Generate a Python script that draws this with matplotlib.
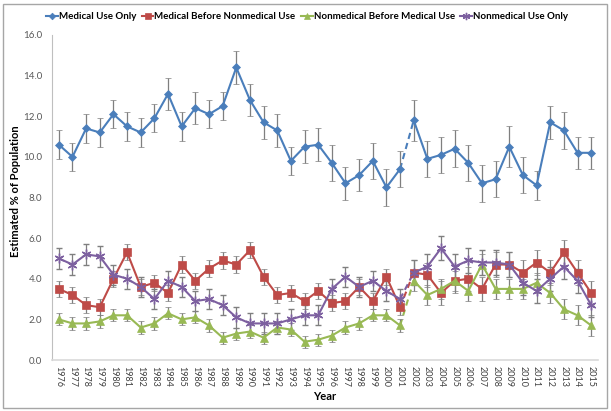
import matplotlib
matplotlib.use("Agg")
import matplotlib.pyplot as plt
from matplotlib.patches import Rectangle
from matplotlib.lines import Line2D

years = list(range(1976, 2016))
series_names = ["Medical Use Only", "Medical Before Nonmedical Use",
                "Nonmedical Before Medical Use", "Nonmedical Use Only"]

medical_only = [10.6, 10.0, 11.4, 11.2, 12.1, 11.5, 11.2, 11.9, 13.1, 11.5,
                12.4, 12.1, 12.5, 14.4, 12.8, 11.7, 11.3, 9.8, 10.5, 10.6,
                9.7, 8.7, 9.1, 9.8, 8.5, 9.4, 11.8, 9.9, 10.1, 10.4,
                9.7, 8.7, 8.9, 10.5, 9.1, 8.6, 11.7, 11.3, 10.2, 10.2]
medical_only_err = [0.7, 0.7, 0.7, 0.7, 0.7, 0.7, 0.7, 0.7, 0.8, 0.7,
                    0.8, 0.7, 0.7, 0.8, 0.8, 0.8, 0.8, 0.7, 0.8, 0.8,
                    0.9, 0.8, 0.8, 0.9, 0.9, 0.9, 1.0, 0.9, 0.9, 0.9,
                    0.9, 0.9, 0.9, 1.0, 0.9, 0.7, 0.8, 0.9, 0.8, 0.8]

med_before = [3.5, 3.2, 2.7, 2.6, 4.0, 5.3, 3.6, 3.8, 3.3, 4.7,
              3.9, 4.5, 4.9, 4.7, 5.4, 4.1, 3.2, 3.3, 2.9, 3.4,
              2.8, 2.9, 3.6, 2.9, 4.1, 2.6, 4.3, 4.2, 3.3, 3.9,
              4.0, 3.5, 4.7, 4.7, 4.3, 4.8, 4.3, 5.3, 4.3, 3.3]
med_before_err = [0.4] * 26 + [0.6] * 14

nonmed_before = [2.0, 1.8, 1.8, 1.9, 2.2, 2.2, 1.6, 1.8, 2.3, 2.0,
                 2.1, 1.7, 1.1, 1.3, 1.4, 1.1, 1.6, 1.5, 0.9, 1.0,
                 1.2, 1.6, 1.8, 2.2, 2.2, 1.7, 3.9, 3.2, 3.5, 3.9,
                 3.4, 4.7, 3.5, 3.5, 3.5, 3.8, 3.3, 2.5, 2.2, 1.7]
nonmed_before_err = [0.3] * 26 + [0.5] * 14

nonmed_only = [5.0, 4.7, 5.2, 5.1, 4.2, 4.0, 3.6, 3.0, 3.9, 3.6,
               2.9, 3.0, 2.7, 2.1, 1.8, 1.8, 1.8, 2.0, 2.2, 2.2,
               3.5, 4.1, 3.6, 3.9, 3.4, 3.0, 4.3, 4.6, 5.5, 4.6,
               4.9, 4.8, 4.8, 4.7, 3.8, 3.4, 4.0, 4.6, 3.9, 2.7]
nonmed_only_err = [0.5] * 26 + [0.6] * 14

yticks = [0.0, 2.0, 4.0, 6.0, 8.0, 10.0, 12.0, 14.0, 16.0]

colors = ["#4A7EBB", "#BE4B48", "#98B954", "#7D60A0"]
markers = ["D", "s", "^", (6, 2, 0)]
msizes = [4.5, 6, 5.5, 7]
data = [medical_only, med_before, nonmed_before, nonmed_only]
errs = [medical_only_err, med_before_err, nonmed_before_err, nonmed_only_err]

FONT = ["Lato", "DejaVu Sans"]
plt.rcParams["font.family"] = FONT

fig = plt.figure(figsize=(6.11, 4.11), dpi=100)
ax = fig.add_axes([52 / 611, 1 - 360 / 411, 546 / 611, 325 / 411])

x = list(range(len(years)))
brk = years.index(2002)
ecol = "#7F7F7F"
LW = 1.5
for vals, err, c, m, ms in zip(data, errs, colors, markers, msizes):
    mew = 1.0 if isinstance(m, tuple) else 0.5
    for sl in (slice(0, brk), slice(brk, len(years))):
        ax.errorbar(x[sl], vals[sl], yerr=err[sl], color=c, lw=LW,
                    marker=m, markersize=ms, markeredgecolor=c,
                    markeredgewidth=mew,
                    ecolor=ecol, elinewidth=0.9, capsize=2.2, capthick=0.9,
                    zorder=3)
    ax.plot([x[brk - 1], x[brk]], [vals[brk - 1], vals[brk]], color=c,
            lw=LW, ls=(0, (3, 2)), zorder=2)

ax.set_xlim(-0.5, len(years) - 0.5)
ax.set_ylim(0, 16)
ax.set_yticks(yticks)
ax.set_yticklabels([f"{v:.1f}" for v in yticks], fontsize=7, color="#595959")
ax.set_xticks(x)
ax.set_xticklabels([str(y) for y in years], rotation=270, fontsize=6.5,
                   color="#404040")
ax.tick_params(axis="both", length=0, pad=4)
ax.tick_params(axis="y", pad=7)
for s in ("top", "right"):
    ax.spines[s].set_visible(False)
ax.spines["left"].set_color("#BFBFBF")
ax.spines["bottom"].set_color("#D9D9D9")
ax.spines["bottom"].set_linewidth(1.2)

fig.text(16 / 611, 1 - 191 / 411, "Estimated % of Population", rotation=90,
         fontsize=8, fontweight="bold", ha="center", va="center")
ax.set_xlabel("Year", fontsize=8, fontweight="bold", labelpad=3)

handles = [Line2D([], [], color=c, lw=LW, marker=m, markersize=ms * 0.75,
                  markeredgewidth=1.0 if isinstance(m, tuple) else 0.5,
                  markeredgecolor=c)
           for c, m, ms in zip(colors, markers, msizes)]
fig.legend(handles, series_names, loc="center",
           bbox_to_anchor=(307 / 611, 1 - 16.5 / 411),
           ncol=4, frameon=False, prop={"weight": "bold", "size": 7},
           handlelength=1.2, handletextpad=0.1, columnspacing=0.55)

fig.patches.append(Rectangle((3 / 611, 3 / 411), 604 / 611, 404 / 411,
                             transform=fig.transFigure, fill=False,
                             edgecolor="#A6A6A6", lw=1.0))

fig.savefig("out.png", dpi=100)
